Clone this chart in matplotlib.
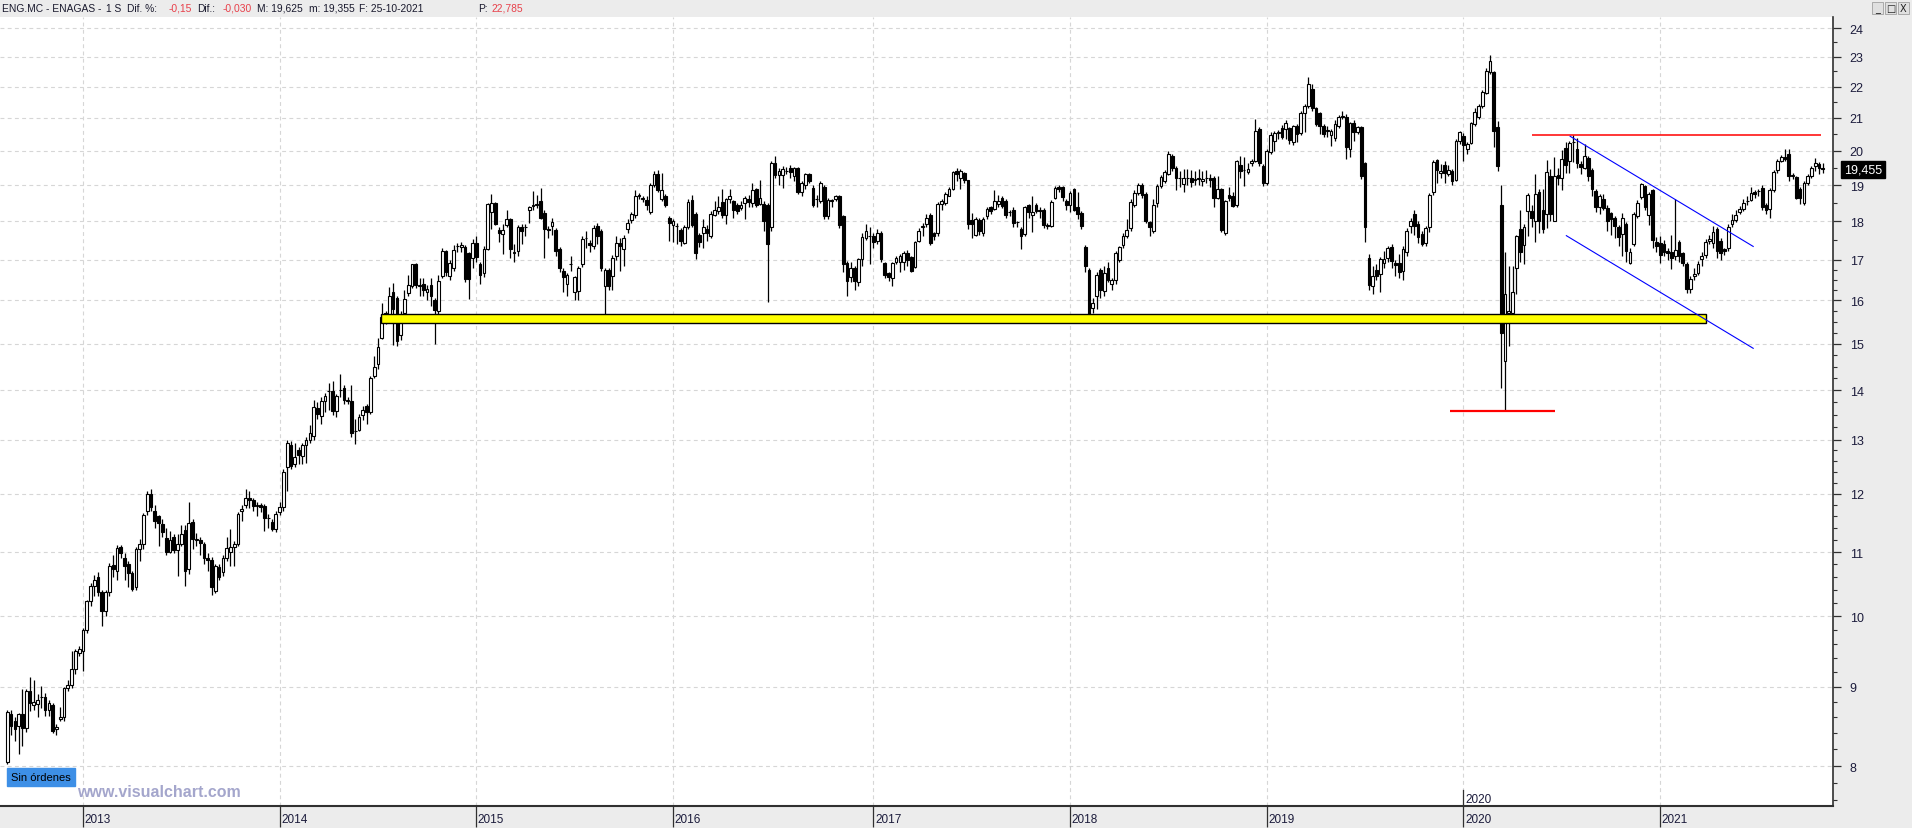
import matplotlib
matplotlib.use('Agg')
import matplotlib.pyplot as plt
import matplotlib.transforms as mtransforms
from matplotlib.patches import Rectangle
from matplotlib.ticker import FixedLocator, FixedFormatter, NullFormatter
import numpy as np
import pandas as pd

plt.rcParams['font.family'] = ['Liberation Sans', 'DejaVu Sans']

# ENG.MC weekly candles (open, high, low, close), grouped by the year of each week's Monday
w2012 = [(8.05, 8.70, 8.02, 8.67), (8.64, 8.70, 8.38, 8.49), (8.55, 8.60, 8.30, 8.45), (8.49, 8.66, 8.14, 8.64),
         (8.64, 8.97, 8.24, 8.47), (8.47, 8.97, 8.42, 8.94), (8.94, 9.13, 8.68, 8.79), (8.76, 9.10, 8.70, 8.80),
         (8.78, 8.90, 8.60, 8.82), (8.86, 9.01, 8.72, 8.86), (8.86, 8.92, 8.62, 8.70), (8.70, 8.82, 8.62, 8.79),
         (8.76, 8.79, 8.40, 8.43), (8.45, 8.52, 8.38, 8.48), (8.58, 8.73, 8.56, 8.61), (8.60, 9.00, 8.56, 8.98),
         (8.98, 9.10, 8.95, 9.03), (9.03, 9.50, 8.98, 9.25), (9.25, 9.52, 9.18, 9.50), (9.47, 9.56, 9.42, 9.52),
         (9.50, 9.82, 9.22, 9.79)]
w2013 = [(9.79, 10.25, 9.75, 10.23), (10.23, 10.50, 10.15, 10.46), (10.46, 10.63, 10.30, 10.56), (10.60, 10.68, 10.30, 10.36),
         (10.36, 10.40, 9.86, 10.08), (10.08, 10.40, 10.00, 10.36), (10.36, 10.82, 10.30, 10.78), (10.79, 10.95, 10.60, 10.73),
         (10.70, 11.12, 10.55, 11.07), (11.08, 11.12, 10.90, 10.99), (10.90, 10.98, 10.55, 10.77), (10.80, 10.85, 10.45, 10.67),
         (10.66, 10.70, 10.38, 10.42), (10.45, 11.08, 10.40, 11.05), (11.05, 11.22, 10.85, 11.14), (11.14, 11.66, 11.05, 11.62),
         (11.70, 12.04, 11.62, 12.00), (12.00, 12.08, 11.70, 11.77), (11.70, 11.80, 11.40, 11.53), (11.60, 11.62, 11.10, 11.49),
         (11.47, 11.55, 11.25, 11.33), (11.24, 11.40, 10.95, 11.01), (11.00, 11.36, 10.98, 11.20), (11.25, 11.30, 10.98, 11.03),
         (11.03, 11.30, 10.62, 11.14), (11.14, 11.45, 11.10, 11.30), (11.37, 11.45, 10.46, 10.70), (10.72, 11.85, 10.65, 11.49),
         (11.50, 11.55, 11.05, 11.22), (11.20, 11.32, 11.10, 11.20), (11.20, 11.25, 10.95, 11.15), (11.14, 11.16, 10.80, 10.90),
         (10.90, 10.98, 10.70, 10.88), (10.87, 10.92, 10.32, 10.45), (10.38, 10.80, 10.35, 10.77), (10.76, 10.80, 10.55, 10.60),
         (10.68, 10.95, 10.62, 10.90), (10.90, 11.25, 10.85, 11.07), (11.00, 11.38, 10.78, 11.08), (11.08, 11.18, 10.78, 11.14),
         (11.14, 11.68, 11.10, 11.64), (11.69, 11.80, 11.53, 11.73), (11.80, 12.08, 11.75, 11.93), (11.93, 12.05, 11.75, 11.88),
         (11.89, 11.92, 11.70, 11.78), (11.78, 11.85, 11.60, 11.78), (11.80, 11.84, 11.68, 11.77), (11.78, 11.82, 11.35, 11.58),
         (11.57, 11.65, 11.40, 11.57), (11.50, 11.55, 11.35, 11.39), (11.39, 11.70, 11.33, 11.65), (11.68, 11.85, 11.62, 11.76)]
w2014 = [(11.76, 12.45, 11.70, 12.40), (12.48, 13.00, 12.05, 12.95), (12.90, 12.98, 12.45, 12.50), (12.55, 12.95, 12.48, 12.67),
         (12.80, 12.86, 12.55, 12.72), (12.70, 12.95, 12.55, 12.90), (12.91, 13.05, 12.56, 13.00), (13.00, 13.30, 12.95, 13.13),
         (13.07, 13.80, 13.00, 13.65), (13.63, 13.75, 13.42, 13.51), (13.48, 13.85, 13.32, 13.78), (13.78, 13.95, 13.55, 13.87),
         (13.98, 14.15, 13.60, 13.98), (13.98, 14.20, 13.50, 13.58), (13.58, 13.92, 13.45, 13.88), (14.00, 14.33, 13.85, 14.00),
         (14.05, 14.10, 13.72, 13.80), (13.78, 13.85, 13.72, 13.78), (13.78, 14.10, 13.06, 13.14), (13.17, 13.42, 12.92, 13.17),
         (13.20, 13.52, 13.18, 13.45), (13.50, 13.68, 13.40, 13.60), (13.67, 13.72, 13.32, 13.55), (13.55, 14.30, 13.52, 14.26),
         (14.30, 14.72, 14.25, 14.50), (14.55, 15.12, 14.45, 14.92), (15.13, 15.95, 15.10, 15.60), (15.70, 15.75, 15.45, 15.66),
         (15.63, 16.33, 15.55, 16.10), (16.20, 16.41, 14.98, 15.80), (16.05, 16.10, 14.95, 15.06), (15.20, 15.75, 15.08, 15.58),
         (15.70, 16.25, 15.62, 16.04), (16.19, 16.62, 16.10, 16.37), (16.35, 16.90, 16.30, 16.88), (16.88, 16.92, 16.30, 16.37),
         (16.35, 16.55, 16.10, 16.35), (16.40, 16.55, 16.10, 16.25), (16.20, 16.38, 16.00, 16.27), (16.37, 16.55, 15.88, 16.10),
         (16.00, 16.05, 15.00, 15.77), (15.76, 16.62, 15.58, 16.46), (16.60, 17.30, 16.55, 17.22), (17.22, 17.25, 16.60, 16.68),
         (16.60, 17.00, 16.50, 16.92), (16.80, 17.38, 16.72, 17.26), (17.35, 17.42, 17.20, 17.35), (17.33, 17.45, 17.20, 17.37),
         (17.33, 17.38, 16.45, 16.52), (17.17, 17.20, 16.04, 16.52), (17.05, 17.52, 16.80, 17.44), (17.44, 17.62, 16.95, 17.07)]
w2015 = [(16.88, 16.95, 16.40, 16.62), (16.66, 17.35, 16.58, 17.28), (17.27, 18.50, 17.25, 18.47), (18.26, 18.75, 17.80, 18.49),
         (18.50, 18.52, 17.90, 17.93), (17.76, 17.85, 17.45, 17.69), (17.66, 17.92, 17.15, 17.77), (17.90, 18.30, 17.85, 18.06),
         (18.06, 18.10, 17.05, 17.28), (17.18, 17.40, 16.95, 17.18), (17.22, 17.90, 17.10, 17.84), (17.84, 17.92, 17.40, 17.75),
         (17.84, 17.92, 17.60, 17.84), (18.32, 18.42, 17.95, 18.40), (18.42, 18.82, 18.30, 18.42), (18.43, 18.72, 18.35, 18.47),
         (18.56, 18.92, 18.05, 18.10), (18.23, 18.30, 17.04, 17.80), (17.80, 17.88, 17.55, 17.78), (17.87, 18.10, 17.65, 17.99),
         (17.78, 17.82, 17.10, 17.22), (17.28, 17.32, 16.70, 16.78), (16.71, 16.78, 16.20, 16.58), (16.40, 16.66, 16.10, 16.62),
         (16.88, 17.10, 16.72, 16.88), (16.20, 16.60, 16.00, 16.56), (16.22, 16.85, 16.00, 16.78), (16.88, 17.62, 16.82, 17.53),
         (17.55, 17.75, 17.30, 17.55), (17.44, 17.50, 17.20, 17.37), (17.35, 17.90, 17.28, 17.82), (17.87, 17.95, 17.40, 17.62),
         (17.73, 17.80, 16.72, 16.80), (16.34, 16.80, 15.62, 16.74), (16.74, 16.78, 16.25, 16.36), (16.60, 17.12, 16.24, 17.04),
         (17.09, 17.62, 17.00, 17.43), (17.43, 17.55, 16.72, 17.35), (17.28, 17.65, 16.85, 17.55), (17.80, 18.05, 17.70, 17.95),
         (18.04, 18.25, 17.95, 18.20), (18.17, 18.85, 18.10, 18.68), (18.70, 18.78, 18.60, 18.70), (18.62, 18.68, 18.52, 18.62),
         (18.58, 18.68, 18.30, 18.43), (18.26, 19.05, 18.20, 18.99), (18.99, 19.40, 18.95, 19.31), (19.31, 19.42, 18.80, 18.86),
         (18.60, 19.35, 18.55, 18.87), (18.70, 18.75, 18.40, 18.45), (18.10, 18.15, 17.47, 17.95), (17.90, 18.05, 17.45, 18.00)]
w2016 = [(17.87, 17.95, 17.40, 17.87), (17.77, 17.82, 17.35, 17.47), (17.44, 17.90, 17.40, 17.84), (17.84, 18.62, 17.80, 18.52),
         (18.59, 18.72, 17.85, 17.90), (18.20, 18.25, 17.02, 17.16), (17.63, 17.68, 17.32, 17.45), (17.69, 18.05, 17.30, 17.84),
         (17.80, 17.90, 17.48, 17.70), (17.62, 18.28, 17.55, 18.20), (18.18, 18.55, 18.15, 18.32), (18.29, 18.68, 18.20, 18.38),
         (18.52, 18.90, 18.10, 18.18), (18.18, 18.65, 17.92, 18.60), (18.62, 18.90, 18.50, 18.68), (18.54, 18.58, 18.10, 18.32),
         (18.43, 18.50, 18.20, 18.27), (18.36, 18.55, 18.30, 18.44), (18.50, 18.70, 18.05, 18.63), (18.60, 18.72, 18.40, 18.52),
         (18.50, 19.05, 18.40, 18.86), (18.88, 18.92, 18.40, 18.45), (18.47, 19.14, 18.45, 18.65), (18.47, 18.55, 17.75, 18.02),
         (18.45, 18.50, 15.96, 17.40), (17.84, 19.70, 17.75, 19.64), (19.64, 19.83, 19.20, 19.28), (19.28, 19.48, 19.00, 19.40),
         (19.28, 19.55, 18.92, 19.46), (19.40, 19.52, 19.30, 19.40), (19.48, 19.58, 19.20, 19.36), (19.27, 19.52, 19.10, 19.48),
         (19.48, 19.52, 18.75, 18.80), (18.80, 19.12, 18.70, 19.06), (19.00, 19.35, 18.90, 19.31), (19.31, 19.35, 19.05, 19.12),
         (18.92, 19.00, 18.40, 18.45), (18.60, 18.72, 18.40, 18.60), (18.56, 19.10, 18.50, 19.06), (18.95, 19.00, 18.05, 18.14),
         (18.14, 18.65, 18.05, 18.59), (18.59, 18.62, 18.40, 18.54), (18.60, 18.72, 18.55, 18.68), (18.68, 18.72, 17.82, 17.90),
         (18.14, 18.18, 16.70, 16.88), (16.93, 16.98, 16.10, 16.48), (16.56, 16.95, 16.45, 16.78), (16.80, 16.85, 16.25, 16.48),
         (16.44, 17.05, 16.35, 17.02), (17.02, 17.70, 16.85, 17.58), (17.56, 17.92, 17.50, 17.75), (17.60, 17.85, 16.90, 17.60)]
w2017 = [(17.60, 17.68, 17.30, 17.46), (17.48, 17.80, 17.40, 17.70), (17.70, 17.75, 16.95, 17.02), (16.92, 16.95, 16.55, 16.62),
         (16.66, 16.68, 16.48, 16.58), (16.54, 16.95, 16.35, 16.92), (16.94, 17.10, 16.90, 17.04), (16.94, 17.15, 16.68, 17.09),
         (16.94, 17.22, 16.75, 17.18), (17.18, 17.25, 16.85, 17.00), (17.07, 17.10, 16.68, 16.72), (16.82, 17.48, 16.80, 17.46),
         (17.48, 17.82, 17.45, 17.75), (17.84, 17.95, 17.60, 17.88), (17.93, 18.20, 17.85, 18.08), (18.17, 18.22, 17.38, 17.42),
         (17.68, 17.72, 17.50, 17.62), (17.69, 18.52, 17.60, 18.47), (18.47, 18.62, 18.30, 18.56), (18.50, 18.80, 18.45, 18.74),
         (18.70, 18.95, 18.68, 18.88), (18.90, 19.40, 18.85, 19.36), (19.41, 19.48, 19.10, 19.32), (19.20, 19.45, 18.90, 19.39),
         (19.33, 19.38, 19.05, 19.14), (19.14, 19.15, 17.80, 17.93), (18.03, 18.22, 17.55, 17.92), (17.65, 18.12, 17.60, 18.06),
         (18.03, 18.10, 17.65, 17.73), (17.70, 18.12, 17.62, 18.06), (18.14, 18.40, 18.05, 18.34), (18.38, 18.42, 18.20, 18.29),
         (18.34, 18.85, 18.30, 18.54), (18.47, 18.72, 18.40, 18.56), (18.63, 18.70, 18.35, 18.41), (18.56, 18.62, 18.10, 18.17),
         (18.25, 18.30, 18.15, 18.25), (18.32, 18.38, 17.85, 17.96), (17.97, 18.00, 17.85, 17.97), (17.80, 17.85, 17.28, 17.60),
         (17.66, 18.42, 17.60, 18.38), (18.43, 18.48, 18.10, 18.25), (18.16, 18.70, 17.72, 18.25), (18.43, 18.50, 18.22, 18.29),
         (18.32, 18.40, 18.10, 18.27), (18.32, 18.36, 17.82, 17.90), (17.88, 17.96, 17.80, 17.90), (17.88, 18.58, 17.85, 18.53),
         (18.65, 18.98, 18.60, 18.92), (18.95, 19.00, 18.80, 18.88), (18.95, 18.98, 18.55, 18.66), (18.55, 18.60, 18.30, 18.44)]
w2018 = [(18.44, 18.82, 18.25, 18.78), (18.88, 18.92, 18.28, 18.32), (18.38, 18.80, 18.05, 18.20), (18.23, 18.28, 17.80, 17.87),
         (17.32, 17.38, 16.70, 16.83), (16.75, 16.80, 15.62, 15.65), (15.82, 16.05, 15.70, 15.93), (16.10, 16.68, 15.80, 16.62),
         (16.75, 16.80, 16.05, 16.25), (16.23, 16.85, 16.10, 16.66), (16.80, 16.95, 16.45, 16.49), (16.40, 16.55, 16.25, 16.49),
         (16.49, 17.22, 16.40, 17.16), (17.00, 17.35, 16.95, 17.32), (17.37, 17.68, 17.30, 17.62), (17.62, 18.05, 17.55, 17.78),
         (17.81, 18.60, 17.75, 18.53), (18.44, 18.85, 18.38, 18.78), (18.78, 19.05, 18.72, 19.00), (19.00, 19.05, 18.65, 18.73),
         (18.76, 18.80, 17.95, 18.00), (17.98, 18.02, 17.60, 17.84), (17.75, 18.62, 17.70, 18.44), (18.50, 19.02, 18.40, 18.98),
         (18.98, 19.28, 18.92, 19.23), (19.11, 19.42, 19.05, 19.38), (19.32, 19.98, 19.28, 19.90), (19.85, 19.90, 19.40, 19.49),
         (19.49, 19.55, 18.85, 19.20), (19.20, 19.40, 18.95, 19.20), (19.04, 19.45, 18.80, 19.20), (19.20, 19.45, 19.00, 19.20),
         (19.19, 19.42, 18.95, 19.08), (19.15, 19.40, 19.00, 19.15), (19.18, 19.45, 19.00, 19.18), (19.10, 19.40, 18.98, 19.16),
         (19.20, 19.42, 19.05, 19.20), (19.20, 19.30, 18.95, 19.15), (19.20, 19.25, 18.40, 18.64), (18.64, 19.25, 18.60, 18.90),
         (18.90, 18.92, 17.72, 17.77), (17.70, 18.58, 17.65, 18.55), (18.73, 18.95, 18.55, 18.64), (18.70, 18.80, 18.38, 18.42),
         (18.43, 19.72, 18.40, 19.69), (19.58, 19.85, 19.20, 19.39), (19.43, 19.80, 18.98, 19.43), (19.38, 19.62, 19.30, 19.45),
         (19.62, 19.75, 19.55, 19.70), (19.70, 20.97, 19.65, 20.60), (20.66, 20.70, 19.55, 19.62), (19.56, 19.60, 18.98, 19.07),
         (19.07, 20.05, 19.00, 19.98)]
w2019 = [(19.95, 20.55, 19.90, 20.46), (20.28, 20.58, 20.00, 20.52), (20.54, 20.62, 20.35, 20.56), (20.69, 20.78, 20.35, 20.42),
         (20.65, 20.92, 20.35, 20.83), (20.69, 20.72, 20.20, 20.32), (20.26, 20.78, 20.18, 20.73), (20.75, 20.80, 20.25, 20.50),
         (20.54, 21.22, 20.48, 21.14), (21.14, 21.45, 20.55, 21.38), (21.36, 22.30, 21.30, 22.07), (21.91, 22.10, 21.22, 21.32),
         (21.32, 21.35, 20.75, 20.81), (21.14, 21.18, 20.50, 20.74), (20.75, 20.80, 20.40, 20.50), (20.60, 20.75, 20.40, 20.60),
         (20.47, 20.65, 20.15, 20.60), (20.39, 20.92, 20.30, 20.80), (20.75, 21.08, 20.68, 21.03), (21.07, 21.20, 20.95, 21.03),
         (21.03, 21.12, 19.75, 20.11), (20.05, 20.88, 19.80, 20.84), (20.84, 20.92, 20.30, 20.55), (20.57, 20.76, 20.50, 20.71),
         (20.71, 20.76, 19.18, 19.26), (19.62, 19.66, 17.45, 17.84), (17.04, 17.15, 16.25, 16.37), (16.35, 16.85, 16.15, 16.60),
         (16.73, 16.90, 16.50, 16.60), (16.64, 17.08, 16.20, 17.02), (16.92, 17.22, 16.80, 17.02), (17.04, 17.35, 16.95, 17.30),
         (17.33, 17.40, 16.80, 16.96), (16.93, 17.00, 16.60, 16.86), (16.92, 17.15, 16.55, 16.70), (16.72, 17.35, 16.50, 17.27),
         (17.20, 17.82, 17.10, 17.75), (17.88, 18.10, 17.70, 18.02), (18.20, 18.30, 17.65, 17.88), (17.93, 18.00, 17.42, 17.59),
         (17.67, 17.75, 17.35, 17.40), (17.42, 17.88, 17.35, 17.82), (17.84, 18.78, 17.72, 18.72), (18.79, 19.72, 18.72, 19.66),
         (19.71, 19.75, 19.05, 19.44), (19.35, 19.60, 19.20, 19.41), (19.58, 19.70, 19.05, 19.33), (19.32, 19.58, 19.25, 19.44),
         (19.40, 19.45, 19.00, 19.12), (19.15, 20.35, 19.10, 20.30), (20.30, 20.60, 20.20, 20.55), (20.45, 20.52, 19.68, 20.17)]
w2020 = [(20.05, 20.25, 19.90, 20.20), (20.23, 20.88, 20.20, 20.83), (20.80, 21.30, 20.75, 21.17), (21.03, 21.42, 20.95, 21.37),
         (21.37, 21.90, 21.30, 21.83), (21.80, 22.60, 21.75, 22.52), (22.47, 23.05, 22.40, 22.86), (22.47, 22.52, 20.10, 20.60),
         (20.72, 20.90, 19.40, 19.56), (18.45, 19.00, 14.05, 15.24), (14.62, 17.20, 13.58, 16.15), (15.70, 16.85, 14.95, 15.76),
         (15.70, 16.85, 15.50, 16.20), (16.80, 17.65, 16.15, 17.60), (17.80, 18.30, 16.95, 17.20), (17.38, 17.92, 16.90, 17.86),
         (18.27, 18.78, 17.62, 18.72), (18.27, 18.45, 17.85, 18.10), (18.02, 19.30, 17.45, 18.75), (18.79, 18.90, 17.70, 18.02),
         (18.30, 18.90, 17.70, 17.80), (18.20, 19.72, 17.82, 19.38), (19.26, 19.45, 18.00, 18.20), (18.02, 19.82, 18.00, 19.26),
         (19.28, 19.50, 19.00, 19.20), (19.20, 20.02, 18.85, 19.75), (20.07, 20.25, 19.35, 19.57), (19.70, 20.28, 19.35, 20.23),
         (20.25, 20.46, 19.65, 20.25), (20.05, 20.38, 19.50, 19.63), (19.60, 19.68, 19.30, 19.52), (19.50, 20.20, 19.45, 19.83),
         (19.78, 19.85, 19.10, 19.26), (19.43, 19.50, 18.70, 18.88), (18.84, 18.88, 18.25, 18.39), (18.39, 18.75, 18.20, 18.70),
         (18.60, 18.75, 18.30, 18.37), (18.37, 18.45, 17.75, 18.02), (18.22, 18.25, 17.65, 18.05), (18.10, 18.15, 17.55, 17.87),
         (17.84, 17.90, 17.35, 17.58), (17.66, 18.22, 17.10, 18.10), (17.93, 17.98, 16.95, 17.22), (16.93, 17.30, 16.90, 17.19),
         (17.40, 18.25, 17.35, 18.20), (18.15, 18.58, 18.10, 18.51), (18.66, 19.05, 18.60, 19.03), (18.97, 19.00, 18.30, 18.40),
         (18.17, 18.80, 17.90, 18.76), (18.85, 18.88, 17.30, 17.51), (17.46, 17.58, 17.20, 17.34), (17.42, 17.60, 16.91, 17.11)]
w2021 = [(17.40, 17.50, 17.10, 17.19), (17.22, 17.30, 17.00, 17.16), (17.19, 17.64, 16.76, 17.04), (17.09, 18.62, 17.00, 17.25),
         (17.46, 17.50, 16.95, 17.09), (17.16, 17.20, 16.85, 16.92), (16.88, 16.95, 16.19, 16.27), (16.27, 16.60, 16.18, 16.51),
         (16.60, 16.78, 16.50, 16.65), (16.66, 16.98, 16.62, 16.90), (17.02, 17.20, 16.85, 17.09), (17.13, 17.52, 17.05, 17.46),
         (17.49, 17.65, 17.40, 17.53), (17.44, 17.88, 17.30, 17.72), (17.79, 17.85, 17.05, 17.22), (17.49, 17.55, 17.00, 17.16),
         (17.27, 17.30, 17.12, 17.22), (17.30, 17.92, 17.22, 17.86), (17.93, 18.20, 17.85, 18.04), (18.04, 18.30, 17.98, 18.17),
         (18.24, 18.42, 18.20, 18.33), (18.33, 18.60, 18.28, 18.51), (18.55, 18.68, 18.45, 18.56), (18.58, 18.95, 18.55, 18.78),
         (18.80, 18.85, 18.65, 18.74), (18.83, 18.90, 18.70, 18.83), (18.93, 19.00, 18.30, 18.38), (18.44, 18.50, 18.20, 18.31),
         (18.33, 18.92, 18.10, 18.87), (18.85, 19.42, 18.80, 19.36), (19.42, 19.75, 19.35, 19.69), (19.69, 19.88, 19.65, 19.82),
         (19.82, 20.06, 19.70, 19.76), (19.91, 20.06, 19.10, 19.26), (19.26, 19.35, 19.18, 19.26), (19.22, 19.25, 18.60, 18.64),
         (18.90, 18.95, 18.48, 18.64), (18.50, 19.10, 18.45, 19.07), (19.07, 19.30, 19.00, 19.26), (19.26, 19.55, 19.20, 19.49),
         (19.54, 19.78, 19.40, 19.64), (19.60, 19.65, 19.30, 19.485), (19.50, 19.625, 19.355, 19.455)]

first_monday = '2012-08-13'
year_labels = [2013, 2014, 2015, 2016, 2017, 2018, 2019, 2020, 2021]
price_ticks = list(range(8, 25))
last_price = 19.455

# drawn studies, in bar numbers and prices
support_bar = [98.8, 449.1]
support_price = [15.47, 15.69]
top_line_bar = [403.0, 479.6]
top_line_price = 20.46
low_line_bar = [381.4, 409.2]
low_line_price = 13.58
channel_top_bar = [413.2, 461.6]
channel_top_price = [20.43, 17.34]
channel_low_bar = [412.2, 461.6]
channel_low_price = [17.62, 14.90]

ohlc = np.array(w2012 + w2013 + w2014 + w2015 + w2016 + w2017 + w2018 + w2019 + w2020 + w2021)
o, h, l, c = ohlc.T
x = np.arange(len(ohlc))
dates = pd.date_range(first_monday, periods=len(ohlc), freq='7D')

# first bar of each year (week whose Friday falls in the new year)
year_bars = []
for yr in year_labels:
    fridays = dates + pd.Timedelta(days=4)
    year_bars.append(int(np.argmax(fridays >= pd.Timestamp(f'{yr}-01-01'))))

W, H = 1912, 829
fig = plt.figure(figsize=(W / 100, H / 100), dpi=100)
fig.patch.set_facecolor('#ececec')
ax = fig.add_axes([0, 22 / H, 1833 / W, 789 / H])
ax.set_facecolor('white')

ax.set_yscale('log')
ax.set_ylim(7.538, 24.40)
ax.set_xlim(-1.93, 482.7)

# grid
ax.yaxis.set_major_locator(FixedLocator(price_ticks))
ax.yaxis.set_major_formatter(FixedFormatter([str(p) for p in price_ticks]))
minor = [v / 100 for v in range(760, 1300, 20)] + \
        [v / 100 for v in range(1300, 1700, 25)] + [v / 100 for v in range(1700, 2440, 50)]
ax.yaxis.set_minor_locator(FixedLocator([m for m in minor if m not in price_ticks]))
ax.yaxis.set_minor_formatter(NullFormatter())
ax.set_xticks(year_bars)
ax.set_xticklabels([])
ax.grid(axis='both', which='major', color='#d6d6d6', linestyle=(0, (3.5, 3)), linewidth=0.8)
ax.set_axisbelow(True)

# candles
ax.vlines(x, l, h, color='black', linewidth=0.9, zorder=2)
body_low = np.minimum(o, c)
body_h = np.maximum(np.abs(c - o), 0.012)
fills = np.where(c >= o, 'white', 'black')
ax.bar(x, body_h, bottom=body_low, width=0.72, color=fills, edgecolor='black', linewidth=0.8, zorder=3)

# studies
ax.add_patch(Rectangle((support_bar[0], support_price[0]), support_bar[1] - support_bar[0],
                       support_price[1] - support_price[0], facecolor='#ffff00', edgecolor='black',
                       linewidth=1.0, zorder=4))
ax.hlines(top_line_price, top_line_bar[0], top_line_bar[1], color='#ff0000', linewidth=1.1, zorder=5)
ax.hlines(low_line_price, low_line_bar[0], low_line_bar[1], color='#ff0000', linewidth=1.6, zorder=5)
ax.plot(channel_top_bar, channel_top_price, color='#0000ff', linewidth=0.8, zorder=5)
ax.plot(channel_low_bar, channel_low_price, color='#0000ff', linewidth=0.8, zorder=5)

# axes styling
for side in ['top', 'left']:
    ax.spines[side].set_visible(False)
ax.spines['right'].set_color('#303030')
ax.spines['right'].set_linewidth(1.2)
ax.spines['bottom'].set_color('#303030')
ax.spines['bottom'].set_linewidth(1.5)
ax.yaxis.tick_right()
ax.tick_params(axis='y', which='major', direction='out', length=6, width=0.9, color='#303030',
               labelsize=9, labelcolor='#1c1c3c', pad=6)
ax.tick_params(axis='y', which='minor', direction='out', length=3, width=0.8, color='#303030')
ax.tick_params(axis='x', which='major', direction='out', length=15, width=0.9, color='#303030')

xtr = mtransforms.blended_transform_factory(ax.transData, ax.transAxes)
for bar, yr in zip(year_bars, year_labels):
    ax.text(bar + 0.4, -0.016, str(yr), transform=xtr, fontsize=8.5, color='#1c1c3c',
            ha='left', va='center', clip_on=False)

# date marker for 2020 above the axis
bar2020 = year_bars[year_labels.index(2020)]
ax.plot([bar2020, bar2020], [0.0, 0.02], transform=xtr, color='#303030', linewidth=0.9, clip_on=False)
ax.text(bar2020 + 0.4, 0.009, '2020', transform=xtr, fontsize=8.5, color='#1c1c3c', ha='left', va='center')

# last price label
ytr = mtransforms.blended_transform_factory(ax.transAxes, ax.transData)
ax.text(1.0025, last_price, '\u2190', transform=ytr, fontsize=7, color='#303030', ha='left', va='center')
ax.text(1.006, last_price, '19,455', transform=ytr, fontsize=9, color='white', ha='left', va='center',
        bbox=dict(boxstyle='square,pad=0.2', facecolor='black', edgecolor='black'), clip_on=False)

# header line
hy = 1 - 8.5 / H
header = [(2, 'ENG.MC - ENAGAS -', '#1a1a2e'), (106, '1 S', '#1a1a2e'), (127, 'Dif. %:', '#1a1a2e'),
          (169, '-0,15', '#e8404a'), (197, 'Dif.:', '#1a1a2e'), (223, '-0,030', '#e8404a'),
          (257, 'M: 19,625', '#1a1a2e'), (309, 'm: 19,355', '#1a1a2e'), (359, 'F: 25-10-2021', '#1a1a2e'),
          (478, 'P:', '#1a1a2e'), (492, '22,785', '#e8404a')]
for px, txt, col in header:
    fig.text(px / W, hy, txt, fontsize=7.4, color=col, ha='left', va='center')

# window buttons
for i, glyph in enumerate(['_', '\u25a1', 'X']):
    bx = 1872 + i * 13
    fig.patches.append(Rectangle((bx / W, 1 - 15 / H), 11 / W, 12 / H, transform=fig.transFigure,
                                 facecolor='#e0e0e0', edgecolor='#a0a0a0', linewidth=0.6))
    fig.text((bx + 5.5) / W, 1 - 9 / H, glyph, fontsize=7, family='DejaVu Sans', color='#202020',
             ha='center', va='center')

# bottom-left labels
fig.text(11 / W, 51 / H, 'Sin \u00f3rdenes', fontsize=8, color='black', ha='left', va='center',
         bbox=dict(boxstyle='square,pad=0.35', facecolor='#3d8fe6', edgecolor='#3d8fe6'))
fig.text(77 / W, 36 / H, 'www.visualchart.com', fontsize=11.5, fontweight='bold', color='#a4a6cc',
         ha='left', va='center')

fig.savefig('out.png', dpi=100, facecolor=fig.get_facecolor())
